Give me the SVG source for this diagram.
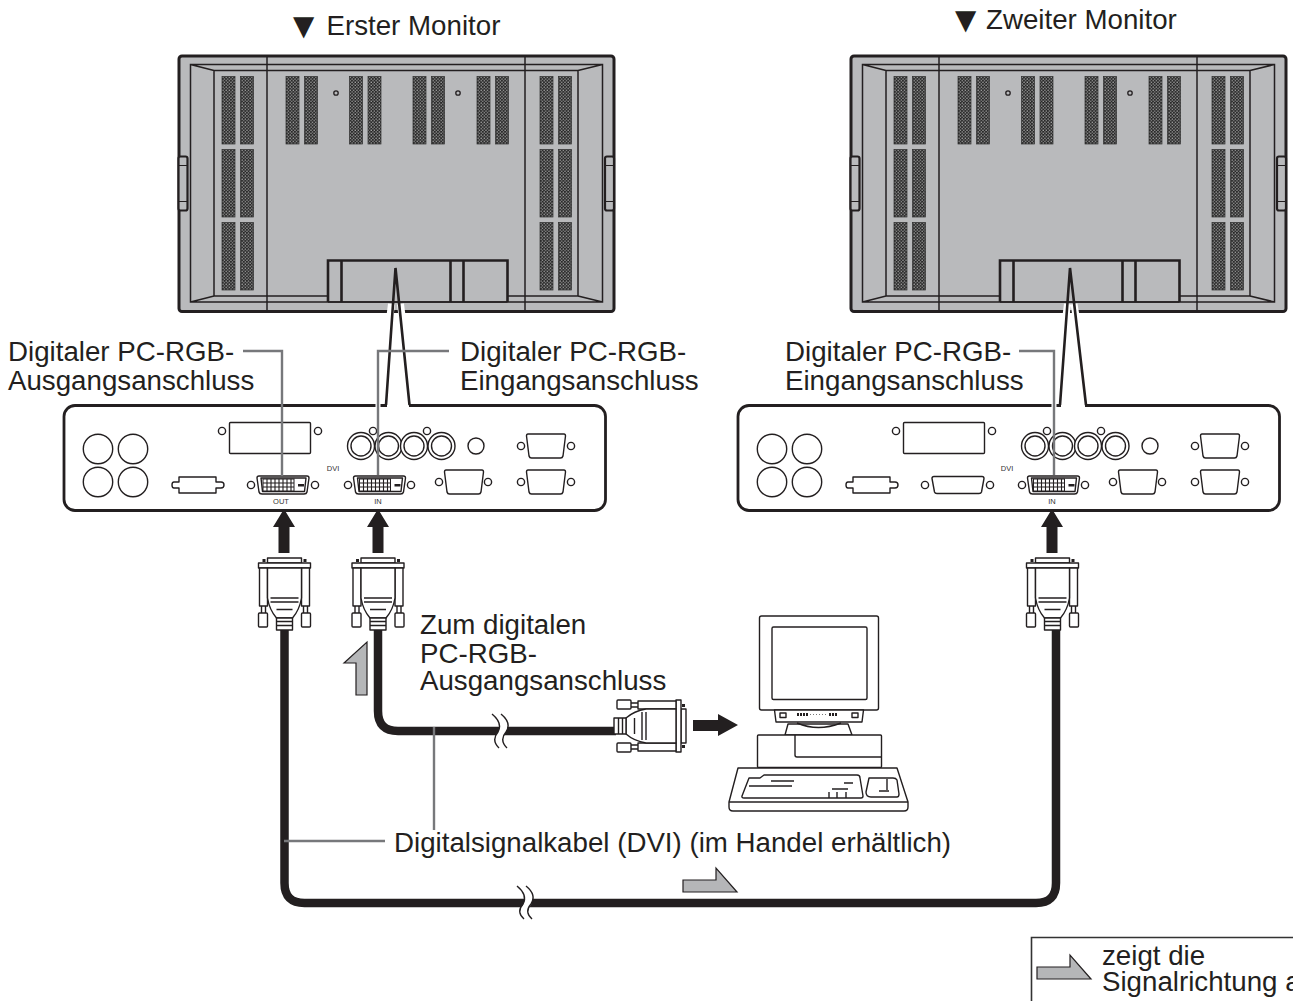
<svg xmlns="http://www.w3.org/2000/svg" xmlns:xlink="http://www.w3.org/1999/xlink" width="1293" height="1001" viewBox="0 0 1293 1001">
<style>
text{font-family:"Liberation Sans",Arial,sans-serif;font-size:27.700px;fill:#231f20}
.tri{font-family:"DejaVu Sans",sans-serif}
.tiny{font-size:7.500px;text-anchor:middle;fill:#333}
.ln{fill:none;stroke:#231f20;stroke-width:1.400;stroke-linejoin:round}
.lnw{fill:#fff;stroke:#231f20;stroke-width:1.400;stroke-linejoin:round}
.mon{fill:none;stroke:#231f20;stroke-width:1.500}
.lead{fill:none;stroke:#77787b;stroke-width:2.400}
.cable{fill:none;stroke:#231f20;stroke-width:8.500}
.ga{fill:#b5b6b8;stroke:#231f20;stroke-width:1.200;stroke-linejoin:miter}
.blk{fill:#231f20}
.vent{fill:url(#dots);stroke:#2e2e2e;stroke-width:.7}
.wave{fill:#fff;stroke:none}
.wedge{fill:none;stroke:#231f20;stroke-width:2.600;stroke-linejoin:miter}
.halo{fill:none;stroke:#fff;stroke-width:7}
</style>
<defs>
<pattern id="dots" width="3.200" height="3.200" patternUnits="userSpaceOnUse">
<rect width="3.200" height="3.200" fill="#262626"/>
<circle cx="1" cy="1" r=".75" fill="#a0a0a0"/>
<circle cx="2.600" cy="2.600" r=".75" fill="#a0a0a0"/>
</pattern>
<g id="vp"><rect class="vent" x="0" y="0" width="13" height="67.500"/><rect class="vent" x="18.500" y="0" width="13" height="67.500"/></g>
<g id="monitor">
<rect x="179" y="56" width="435" height="255.500" rx="3" fill="#b9babc" stroke="#231f20" stroke-width="3"/>
<path class="mon" d="M190.500 64.500H602.500V302H190.500ZM190.500 64.500L214 70.500H578L602.500 64.500M190.500 302L214 296H328M578 296L602.500 302M214 70.500V296M578 70.500V296M267 56V311.500M525 56V311.500M508 296H578"/>
<use href="#vp" x="222" y="76.500"/><use href="#vp" x="222" y="149.500"/><use href="#vp" x="222" y="222.500"/>
<use href="#vp" x="540" y="76.500"/><use href="#vp" x="540" y="149.500"/><use href="#vp" x="540" y="222.500"/>
<use href="#vp" x="286" y="76.500"/><use href="#vp" x="349.500" y="76.500"/><use href="#vp" x="413" y="76.500"/><use href="#vp" x="477" y="76.500"/>
<circle cx="336" cy="93" r="2.200" fill="none" stroke="#231f20" stroke-width="1.300"/>
<circle cx="458" cy="93" r="2.200" fill="none" stroke="#231f20" stroke-width="1.300"/>
<path d="M328 302V260.500H507.500V302M341.500 260.500V302M450.500 260.500V302M463.500 260.500V302" fill="none" stroke="#231f20" stroke-width="2.600"/>
<path class="mon" d="M328 302H507.500"/>
<rect x="178.500" y="156.500" width="9" height="54" rx="2" fill="#b9babc" stroke="#231f20" stroke-width="2.200"/>
<rect x="605" y="156.500" width="9" height="54" rx="2" fill="#b9babc" stroke="#231f20" stroke-width="2.200"/>
<path d="M178.500 165.500H187.500M178.500 201.500H187.500M605 165.500H614M605 201.500H614" stroke="#231f20" stroke-width="1.200"/>
</g>
<g id="scr"><circle r="3.600" class="lnw"/></g>
<path id="dsub" class="lnw" d="M-18 -12H18Q19.500 -12 19.500 -10L17 10Q16.500 12 14.500 12H-14.500Q-16.500 12 -17 10L-19.500 -10Q-19.500 -12 -18 -12Z"/>
<g id="dvi">
<path class="lnw" d="M-24 -9H24Q26 -9 26 -7L24 7Q23.500 9 21 9H-21Q-23.500 9 -24 7L-26 -7Q-26 -9 -24 -9Z"/>
<path class="ln" d="M-22 -7H23L21.500 6.500H-20.500Z"/>
<rect x="-20" y="-6" width="31" height="12" fill="#fff" stroke="#231f20" stroke-width="1"/>
<path d="M-20 -2H11M-20 2H11M-16 -6V6M-12 -6V6M-8 -6V6M-4 -6V6M0 -6V6M4 -6V6M8 -6V6" stroke="#231f20" stroke-width="1.100" fill="none"/>
<rect x="15" y="-1" width="6" height="2.500" fill="#231f20"/>
</g>
<g id="panel">
<rect x="64" y="405.500" width="541.500" height="105" rx="11" fill="#fff" stroke="#231f20" stroke-width="2.800"/>
<circle class="ln" cx="98" cy="449" r="14.700"/><circle class="ln" cx="133" cy="449" r="14.700"/>
<circle class="ln" cx="98" cy="482" r="14.700"/><circle class="ln" cx="133" cy="482" r="14.700"/>
<rect class="lnw" x="229.500" y="422.500" width="81" height="31" rx="1"/>
<use href="#scr" x="222" y="431"/><use href="#scr" x="318" y="431"/>
<path class="lnw" d="M179 477H216V482H221Q224 482 224 485Q224 488 221 488H216V493H179V488H174Q172 488 172 485Q172 482 174 482H179Z"/>
<g class="lnw" stroke-width="1.100"><circle cx="361" cy="446" r="13.500"/><circle cx="388.500" cy="446" r="13.500"/><circle cx="414" cy="446" r="13.500"/><circle cx="441.500" cy="446" r="13.500"/><circle cx="361" cy="446" r="10"/><circle cx="388.500" cy="446" r="10"/><circle cx="414" cy="446" r="10"/><circle cx="441.500" cy="446" r="10"/></g>
<use href="#scr" x="373" y="431"/><use href="#scr" x="427" y="431"/>
<circle class="ln" cx="476" cy="446" r="8"/>
<use href="#dsub" x="546" y="446"/><use href="#scr" x="521" y="446"/><use href="#scr" x="571" y="446"/>
<use href="#dsub" x="546" y="482"/><use href="#scr" x="521" y="482"/><use href="#scr" x="571" y="482"/>
<use href="#dsub" x="464" y="482"/><use href="#scr" x="439" y="482"/><use href="#scr" x="488" y="482"/>
<use href="#dvi" x="379.500" y="485"/><use href="#scr" x="348" y="485"/><use href="#scr" x="411" y="485"/>
<text class="tiny" x="333" y="471">DVI</text>
<text class="tiny" x="378" y="504">IN</text>
</g>
<g id="plug">
<rect class="lnw" x="-17" y="0" width="34" height="5"/>
<path class="blk" d="M-22 1H-19V4H-22ZM19 1H22V4H19Z"/>
<path class="lnw" d="M-26 10V5H26V10Z" stroke-width="1.800"/>
<path class="lnw" d="M-25 10H-17V48H-25ZM17 10H25V48H17Z"/>
<path class="ln" d="M-23 48V55M-19 48V55M23 48V55M19 48V55"/>
<rect class="lnw" x="-26" y="55" width="9" height="14" rx="1"/><rect class="lnw" x="17" y="55" width="9" height="14" rx="1"/>
<path class="lnw" d="M-17 10V40Q-15 52 -8 60H8Q15 52 17 40V10Z"/>
<path class="ln" d="M-14 40H14M-14 44H14M-8 51.500H8"/>
<rect class="lnw" x="-8" y="60" width="16" height="12"/>
<path class="ln" d="M-8 63.500H8M-8 67.500H8"/>
</g>
<path id="up" class="blk" d="M-5.500 44V18H-11L0 0L11 18H5.500V44Z"/>
</defs>

<g id="monitor-1"><use href="#monitor"/></g>
<g id="monitor-2"><use href="#monitor" x="672"/></g>

<g id="panel-1"><use href="#panel"/>
<use href="#dvi" x="283" y="485"/><use href="#scr" x="251" y="485"/><use href="#scr" x="315" y="485"/>
<text class="tiny" x="281" y="504">OUT</text>
</g>
<g id="panel-2"><use href="#panel" x="674"/>
<path class="lnw" d="M934 476.500H982Q984 476.500 984 478.500L981.500 492Q981 493.500 979 493.500H937Q935 493.500 934.500 492L932 478.500Q932 476.500 934 476.500Z"/>
<use href="#scr" x="925" y="485"/><use href="#scr" x="990" y="485"/>
</g>

<g id="computer">
<rect class="lnw" x="759.500" y="616" width="119" height="94" rx="2"/>
<rect class="lnw" x="772" y="627" width="95" height="72.500" rx="1.500" stroke-width="2"/>
<path class="lnw" d="M774.500 710H863.500L862 722H776Z"/>
<rect class="ln" x="780" y="713" width="6" height="4.500"/><rect class="ln" x="852" y="713" width="6" height="4.500"/>
<path d="M797 714.500H808M829 714.500H837" stroke="#231f20" stroke-width="3" stroke-dasharray="2 1"/>
<path d="M810 714.500H828" stroke="#777" stroke-width="1" stroke-dasharray="1 2"/>
<path class="lnw" d="M785 735L788 724H848L852 735Z"/>
<path class="ln" d="M797 723Q818 732 841 723"/>
<rect class="lnw" x="757.500" y="735" width="124" height="32.500" rx="1"/>
<path class="ln" d="M795 735V755Q795 757 797 757H881"/>
<path class="lnw" d="M738 768H897L908 802V807Q908 811 904 811H733Q729 811 729 807V802Z"/>
<path class="ln" d="M729 802H908"/>
<path class="ln" d="M749 778H760L764 775H857Q860 775 860 778L863 796Q863 798 861 798H744Q741.500 798 742 796Z" stroke-width="1.100"/>
<path class="ln" d="M771 781H794M749 786H792M844 783H853M832 789H848M829 798V792M837 798V792M846 798V792" stroke-width="1"/>
<path class="ln" d="M869 778H893Q896 778 897 780L899 794Q899 797 897 797H871Q866 797 866 792Z" stroke-width="1.100"/>
<path class="ln" d="M887 779V790M879 791H889" stroke-width="1"/>
</g>

<g id="connectors">
<path class="cable" d="M284.500 630V883Q284.500 903 304.500 903H1036Q1056 903 1056 883V630"/>
<path class="cable" d="M378 630V711Q378 731 398 731H616"/>
<path class="wave" d="M517 885Q528 895 523 905Q516 912 524 920H532Q524 912 531 905Q536 895 526 885Z"/>
<path class="ln" d="M517 886Q528 895 523 904Q516 912 524 919M526 886Q537 895 531 904Q524 912 532 919"/>
<path class="wave" d="M492 713Q503 722 498 732Q491 739 499 749H507Q499 739 506 732Q511 722 501 713Z"/>
<path class="ln" d="M492 714Q503 723 498 732Q491 740 499 748M501 714Q512 723 506 732Q499 740 507 748"/>

<path class="halo" d="M391.500 304L390 316M400.500 304L402 316"/>
<path fill="#fff" d="M375.500 402H380.500V409H375.500ZM387 402H409V409H387Z"/>
<path class="wedge" d="M386 405L395.500 268L409.500 405"/>
<path class="halo" d="M1067.500 304L1066 316M1074 304L1076 316"/>
<path fill="#fff" d="M1051.500 402H1056.500V409H1051.500ZM1061 402H1085V409H1061Z"/>
<path class="wedge" d="M1060 405L1070 268L1086 405"/>

<path class="lead" d="M243 351H282V476"/>
<path class="lead" d="M449 351H378V475"/>
<path class="lead" d="M1019 351H1054V475"/>
<path class="lead" d="M434 727V830"/>
<path class="lead" d="M284 841H385"/>
<use href="#up" x="284" y="509"/>
<use href="#up" x="378" y="509"/>
<use href="#up" x="1052" y="509"/>
<use href="#plug" transform="translate(284.500 558)"/>
<use href="#plug" transform="translate(378 558)"/>
<use href="#plug" transform="translate(1052.500 558)"/>
<use href="#plug" transform="translate(686 726) rotate(90)"/>
<path class="blk" d="M693 720H718V714L738 725L718 736V731H693Z"/>
<path class="ga" d="M344 663L367 642V695H356V663Z"/>
<path class="ga" d="M683 880H716V868L737 892H683Z"/>
</g>

<g id="labels">
<text x="293" y="35"><tspan class="tri">▼ </tspan><tspan x="326.500">Erster Monitor</tspan></text>
<text x="955" y="29"><tspan class="tri">▼ </tspan><tspan x="986">Zweiter Monitor</tspan></text>
<text x="8" y="361">Digitaler PC-RGB-</text>
<text x="8" y="390">Ausgangsanschluss</text>
<text x="460" y="361">Digitaler PC-RGB-</text>
<text x="460" y="390">Eingangsanschluss</text>
<text x="785" y="361">Digitaler PC-RGB-</text>
<text x="785" y="390">Eingangsanschluss</text>
<text x="420" y="634">Zum digitalen</text>
<text x="420" y="663">PC-RGB-</text>
<text x="420" y="690">Ausgangsanschluss</text>
<text x="394" y="852">Digitalsignalkabel (DVI) (im Handel erhältlich)</text>
</g>

<g id="legend">
<path d="M1031.500 1001V937.500H1293" fill="none" stroke="#333" stroke-width="1.600"/>
<path class="ga" d="M1037 967H1070V955L1091 979H1037Z"/>
<text x="1102" y="965">zeigt die</text>
<text x="1102" y="991">Signalrichtung a</text>
</g>
</svg>
